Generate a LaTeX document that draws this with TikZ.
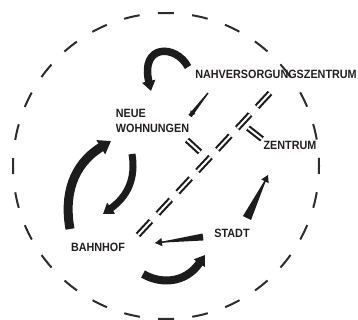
\documentclass[tikz,border=0pt]{standalone}
\usepackage{fontspec}
\newfontfamily\ortfont[FakeStretch=0.9, UprightFont={* Bold}]{Liberation Sans}
\usepackage{xcolor}
\definecolor{ink}{RGB}{28, 28, 28}
\definecolor{schrift}{RGB}{35, 31, 32}
\definecolor{kreis}{RGB}{45, 45, 45}
\usetikzlibrary{arrows.meta, positioning, calc}

\begin{document}
\begin{tikzpicture}[x=1pt, y=-1pt,
  ort/.style={font=\ortfont\fontsize{12}{15}\selectfont, text=schrift,
              inner sep=0pt, align=left},
  bogen/.style={draw=ink, -{Triangle[length=10pt,width=13pt]}},
  keil/.style={fill=ink},
  spitze/.style={draw=ink, line width=1.2pt, -{Triangle[length=7pt,width=8pt]}},
  weg/.style={draw=ink, line width=2.1pt, double=white, double distance=2pt},
  kreisrand/.style={draw=kreis, line width=2pt,
                    dash pattern=on 16pt off 18.33pt, dash phase=8pt}
]
  \useasboundingbox (0,0) rectangle (358,320);

  % -- Rand --
  \draw[kreisrand] (166,166) circle (153);

  % -- Orte --
  \node[ort] (nahv)    at (276,74)      {NAHVERSORGUNGSZENTRUM};
  \node[ort] (neue)    at (152.5,120.5) {NEUE\\WOHNUNGEN};
  \node[ort] (zentrum) at (290,145)     {ZENTRUM};
  \node[ort] (stadt)   at (232,233)     {STADT};
  \node[ort] (bahnhof) at (98,247)      {BAHNHOF};

  % -- Enden der Verbindungen --
  \coordinate (wegA)  at (138,235);
  \coordinate (wegB)  at (270,93);
  \coordinate (wegW1) at (187,140);
  \coordinate (wegW2) at (200,152);
  \coordinate (wegZ1) at (248,128);
  \coordinate (wegZ2) at (262,139);

  % -- Wege (doppelt, gestrichelt) --
  \draw[weg, dash pattern=on 19pt off 10.15pt] (wegA) -- (wegB);
  \draw[weg] (wegW1) -- (wegW2);
  \draw[weg] (wegZ1) -- (wegZ2);

  % -- Boegen --
  \coordinate (o1) at (188,67);  \coordinate (o2) at (151,91);
  \coordinate (l1) at (70,229);  \coordinate (l2) at (111,141);
  \coordinate (m1) at (132,154); \coordinate (m2) at (103,214);
  \coordinate (u1) at (143,274); \coordinate (u2) at (205,255);

  \draw[bogen, line width=7.5pt] (o1) .. controls (176,44) and (140,44) .. (o2);
  \draw[bogen, line width=9pt, -{Triangle[length=12pt,width=16pt]}]
    (l1) .. controls (64,196) and (72,165) .. (l2);
  \draw[bogen, line width=7pt] (m1) .. controls (136,178) and (128,196) .. (m2);
  \draw[bogen, line width=8pt] (u1) .. controls (160,284) and (185,284) .. (u2);

  % -- Keile --
  \coordinate (t1) at (208,93);  \coordinate (t2) at (190,116);
  \coordinate (s1) at (203,237); \coordinate (s2) at (155,243);
  \coordinate (z1) at (247,218); \coordinate (z2) at (268,175);

  \fill[keil] ($(t1)!0.6pt!90:(t2)$) -- ($(t1)!0.6pt!-90:(t2)$)
    -- ($(t2)!2pt!90:(t1)$) -- ($(t2)!2pt!-90:(t1)$) -- cycle;
  \draw[spitze, line width=1pt, -{Triangle[length=5pt,width=6pt]}] (t1) -- (t2);

  \fill[keil] ($(s1)!3.5pt!90:(s2)$) -- ($(s1)!3.5pt!-90:(s2)$) -- (s2) -- cycle;
  \draw[spitze] (s1) -- (s2);

  \fill[keil] ($(z1)!4.5pt!90:(z2)$) -- ($(z1)!4.5pt!-90:(z2)$) -- (z2) -- cycle;
  \draw[spitze] (z1) -- (z2);

\end{tikzpicture}
\end{document}
